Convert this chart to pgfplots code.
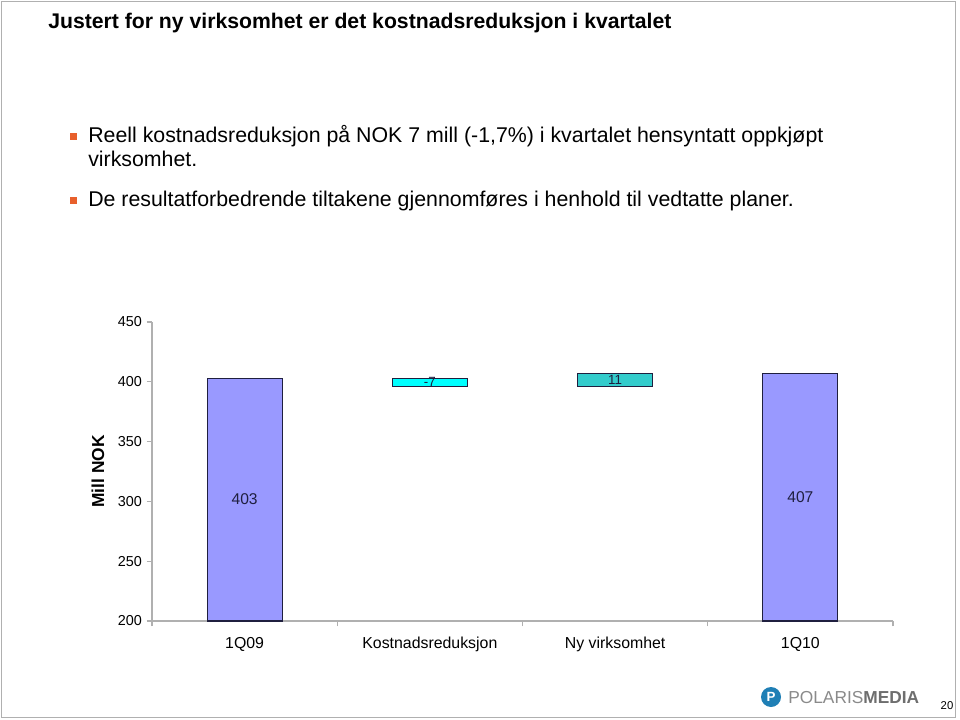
\documentclass[border=0pt]{standalone}
\usepackage{fontspec}
\setmainfont{Liberation Sans}
\usepackage{pgfplots}
\pgfplotsset{compat=1.18}
\definecolor{barblue}{HTML}{9999FF}
\definecolor{barcyan}{HTML}{00FFFF}
\definecolor{barteal}{HTML}{33CCCC}
\definecolor{bulletc}{HTML}{E8602C}
\definecolor{edge}{HTML}{1F1F3F}
\definecolor{axgray}{HTML}{B0B0B0}
\definecolor{logoblue}{HTML}{1F7FB5}
\definecolor{logogray}{HTML}{8A8A8A}
\definecolor{logodark}{HTML}{6E6E6E}
\begin{document}
\begin{tikzpicture}
\useasboundingbox (0,0) rectangle (720pt,-540pt);
\begin{scope}[x=0.75pt,y=-0.75pt]
\draw[color=axgray, line width=1.2pt] (1.5,1.5) rectangle (955.5,717.5);
\node[anchor=base west, inner sep=0, font=\fontsize{15.9}{18}\selectfont\bfseries] at (48,29) {Justert for ny virksomhet er det kostnadsreduksjon i kvartalet};
\fill[bulletc] (70,133) rectangle (77,140);
\node[anchor=base west, inner sep=0, font=\fontsize{16}{18}\selectfont] at (88,143) {Reell kostnadsreduksjon på NOK 7 mill (-1,7\%) i kvartalet hensyntatt oppkjøpt};
\node[anchor=base west, inner sep=0, font=\fontsize{16}{18}\selectfont] at (88,167) {virksomhet.};
\fill[bulletc] (70,197) rectangle (77,204);
\node[anchor=base west, inner sep=0, font=\fontsize{16}{18}\selectfont] at (88,207) {De resultatforbedrende tiltakene gjennomføres i henhold til vedtatte planer.};
% logo
\fill[logoblue] (771,697) circle (10);
\node[text=white, font=\fontsize{10}{12}\selectfont\bfseries, inner sep=0] at (771,697) {P};
\node[anchor=base west, inner sep=0, font=\fontsize{13}{16}\selectfont, text=logogray] at (788,703) {POLARIS\textcolor{logodark}{\textbf{MEDIA}}};
\node[anchor=base, inner sep=0, font=\fontsize{8.5}{10}\selectfont] at (947,709) {20};
\end{scope}
\begin{axis}[
  at={(114pt,-465.75pt)}, anchor=south west,
  scale only axis, width=555.75pt, height=224.25pt,
  xmin=-0.5, xmax=3.5, ymin=200, ymax=450,
  axis x line*=bottom, axis y line*=left,
  axis line style={axgray, line width=0.8pt, -},
  ytick={200,250,300,350,400,450},
  xtick={0,1,2,3},
  xticklabels={1Q09,Kostnadsreduksjon,Ny virksomhet,1Q10},
  minor xtick={-0.5,0.5,1.5,2.5,3.5},
  tick align=outside,
  major tick length=4pt, minor tick length=4pt,
  major x tick style={draw=none},
  minor x tick style={axgray, line width=0.8pt},
  y tick style={axgray, line width=0.8pt},
  /pgf/number format/assume math mode=true,
  yticklabel style={font=\fontsize{10.8}{12}\selectfont},
  xticklabel style={font=\fontsize{11.9}{13}\selectfont, anchor=base, yshift=-16.5pt},
  ylabel={Mill NOK},
  every axis y label/.style={at={(axis description cs:0,0.5)}, rotate=90, anchor=center, yshift=40.5pt, font=\fontsize{13}{15}\selectfont\bfseries},
]
\addplot[fill=barblue, draw=edge, line width=0.9pt] coordinates {(-0.2025,200) (0.2025,200) (0.2025,403) (-0.2025,403)} -- cycle;
\addplot[fill=barcyan, draw=edge, line width=0.9pt] coordinates {(0.7975,396) (1.2025,396) (1.2025,403) (0.7975,403)} -- cycle;
\addplot[fill=barteal, draw=edge, line width=0.9pt] coordinates {(1.7975,396) (2.2025,396) (2.2025,407) (1.7975,407)} -- cycle;
\addplot[fill=barblue, draw=edge, line width=0.9pt] coordinates {(2.7975,200) (3.2025,200) (3.2025,407) (2.7975,407)} -- cycle;
\addplot[draw=none, mark=none, nodes near coords, point meta=explicit symbolic,
  nodes near coords style={anchor=center, font=\fontsize{11.7}{13}\selectfont, text=edge}]
  coordinates {(0,301.5)[403] (3,303.5)[407]};
\addplot[draw=none, mark=none, nodes near coords, point meta=explicit symbolic,
  nodes near coords style={anchor=center, font=\fontsize{10}{11}\selectfont, text=edge}]
  coordinates {(1,399.5)[-7] (2,401.5)[11]};
\end{axis}
\end{tikzpicture}
\end{document}
